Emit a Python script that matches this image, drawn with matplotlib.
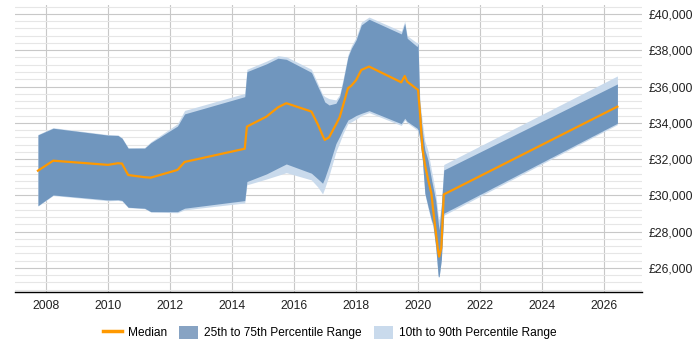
import matplotlib
matplotlib.use('Agg')
import matplotlib.pyplot as plt
from matplotlib.lines import Line2D
from matplotlib.patches import Patch
from matplotlib.ticker import FuncFormatter, MultipleLocator

# valeurs (année décimale, salaire en £)
years = [
    2007.74, 2008.23, 2010.00, 2010.32, 2010.45, 2010.65, 2011.18, 2011.38,
    2012.24, 2012.47, 2014.41, 2014.48, 2015.11, 2015.48, 2015.75, 2016.56,
    2016.77, 2016.92, 2016.99, 2017.13, 2017.35, 2017.47, 2017.58, 2017.74,
    2017.85, 2018.00, 2018.17, 2018.42, 2019.46, 2019.57, 2019.65, 2019.97,
    2020.00, 2020.055, 2020.14, 2020.22, 2020.32, 2020.43, 2020.48, 2020.57,
    2020.65, 2020.68, 2020.75, 2020.83, 2026.43,
]
p10 = [
    29400, 29990, 29700, 29720, 29680, 29320, 29260, 29080,
    29040, 29200, 29580, 30580, 30900, 31100, 31250, 30850,
    30450, 30077, 30400, 31100, 32400, 32900, 33400, 33974,
    34050, 34200, 34400, 34560, 33850, 34150, 34000, 33600,
    33500, 33100, 31900, 30050, 29300, 28550, 28300, 27100,
    25500, 25480, 26400, 28900, 33900,
]
p25 = [
    29430, 30020, 29746, 29760, 29720, 29343, 29288, 29100,
    29100, 29290, 29710, 30760, 31180, 31500, 31730, 31220,
    30900, 30667, 30950, 31650, 32850, 33250, 33650, 34156,
    34250, 34400, 34520, 34670, 33950, 34250, 34070, 33700,
    33600, 33200, 31950, 30115, 29400, 28645, 28400, 27170,
    25550, 25520, 26440, 29012, 33974,
]
p50 = [
    31360, 31910, 31680, 31770, 31750, 31120, 31000, 30975,
    31400, 31840, 32570, 33790, 34340, 34850, 35080, 34620,
    33900, 33300, 33054, 33200, 33900, 34300, 34950, 35904,
    36050, 36350, 36913, 37100, 36230, 36580, 36270, 35850,
    35810, 34700, 32600, 31700, 30900, 30100, 29300, 28000,
    26900, 26620, 27100, 30050, 34890,
]
p75 = [
    33330, 33700, 33320, 33300, 33150, 32596, 32600, 32900,
    33820, 34490, 35440, 36820, 37250, 37560, 37500, 36780,
    35990, 35441, 35150, 34983, 35077, 35441, 36268, 37646,
    38109, 38567, 39394, 39708, 38900, 39480, 38660, 38200,
    38380, 35000, 33500, 32500, 31950, 30900, 30480, 29700,
    28500, 28090, 29380, 31400, 36141,
]
p90 = [
    33360, 33730, 33350, 33330, 33180, 32630, 32640, 32950,
    33950, 34680, 35620, 36950, 37400, 37700, 37640, 36950,
    36150, 35560, 35450, 35330, 35260, 35560, 36400, 37750,
    38250, 38700, 39550, 39830, 39050, 39600, 38800, 38400,
    38500, 35300, 34000, 33000, 32450, 31400, 30950, 30100,
    28900, 28645, 29500, 31700, 36582,
]

year_ticks = list(range(2008, 2027, 2))

plt.rcParams['font.family'] = ['Liberation Sans', 'DejaVu Sans']

fig = plt.figure(figsize=(7, 3.5), dpi=100)
ax = fig.add_axes([0.021, 0.166, 0.896, 0.82])

light = '#c9daec'
dark = '#7096be'
orange = '#ff9900'

ax.fill_between(years, p10, p90, color=light, linewidth=0, zorder=2)
ax.fill_between(years, p25, p75, color=dark, linewidth=0, zorder=3)
ax.plot(years, p50, color=orange, linewidth=1.6, zorder=4)

ax.set_xlim(2006.99, 2027.22)
ax.set_ylim(24675, 40500)

ax.set_xticks(year_ticks)
ax.yaxis.set_major_locator(MultipleLocator(2000))
ax.yaxis.set_minor_locator(MultipleLocator(400))
ax.yaxis.set_major_formatter(FuncFormatter(lambda v, p: '£{:,.0f}'.format(v)))
ax.yaxis.tick_right()

ax.grid(True, which='major', axis='both', color='#c8c8c8', linewidth=0.8, zorder=0)
ax.grid(True, which='minor', axis='y', color='#e6e6e6', linewidth=0.8, zorder=0)
ax.set_axisbelow(True)

for side in ('left', 'right', 'top'):
    ax.spines[side].set_visible(False)
ax.spines['bottom'].set_color('black')
ax.spines['bottom'].set_linewidth(1.0)
ax.tick_params(axis='both', which='both', length=0, labelsize=8.8, colors='#222222')
ax.tick_params(axis='x', pad=6)
ax.tick_params(axis='y', pad=5)

handles = [
    Line2D([0], [0], color=orange, linewidth=2.5),
    Patch(facecolor='#87a3c3', edgecolor='none'),
    Patch(facecolor=light, edgecolor='none'),
]
labels = ['Median', '25th to 75th Percentile Range', '10th to 90th Percentile Range']
fig.legend(handles, labels, loc='center', bbox_to_anchor=(0.471, 0.05), ncol=3,
           frameon=False, fontsize=8.6, handlelength=1.6, handleheight=1.3,
           columnspacing=1.0, handletextpad=0.5)

fig.savefig('out.png', dpi=100)
